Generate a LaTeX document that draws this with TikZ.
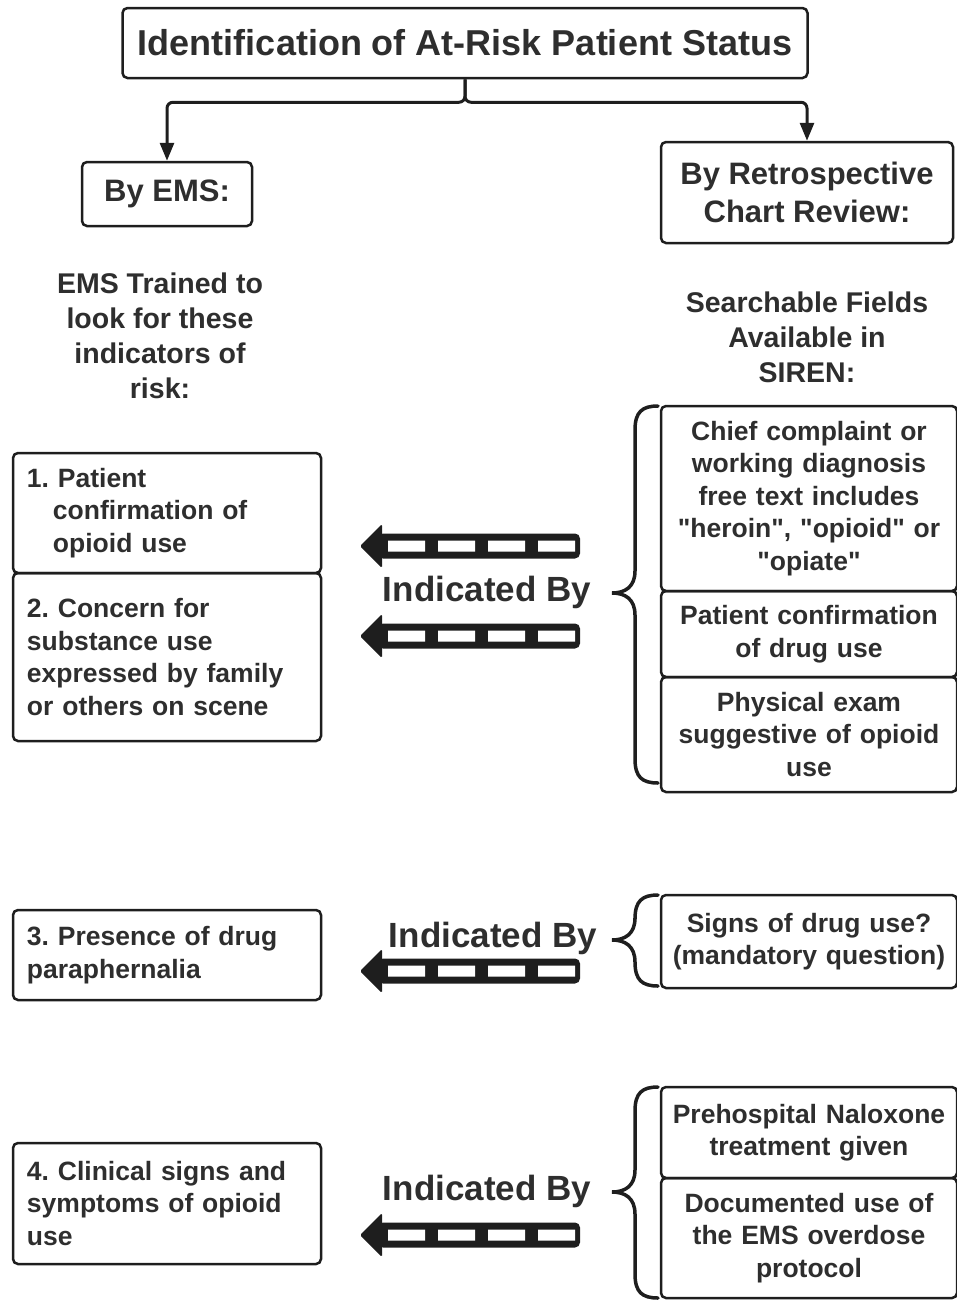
\documentclass[tikz,border=0pt]{standalone}
\usepackage{fontspec}
\setmainfont{Liberation Sans}[Ligatures=TeXOff]
\usetikzlibrary{arrows.meta}
\definecolor{txt}{HTML}{2E2E2E}
\definecolor{lin}{HTML}{1E1E1E}
\frenchspacing
\newcommand\curlyb[3]{%
\draw[brc] (658,#1) .. controls (642,#1) and (635,#1+6) .. (635,#1+24) -- (635,#3-22) .. controls (635,#3-6) and (625,#3) .. (612,#3) .. controls (625,#3) and (635,#3+6) .. (635,#3+22) -- (635,#2-24) .. controls (635,#2-6) and (642,#2) .. (658,#2);}
\begin{document}
\begin{tikzpicture}[x=1pt,y=-1pt,
  every node/.style={text=txt, font=\bfseries},
  box/.style={draw=lin, line width=2.5pt, rounded corners=5pt},
  lbox/.style={box, text width=280pt, inner xsep=14pt, inner ysep=0pt, align=left, font=\bfseries\fontsize{26.5}{32.5}\selectfont},
  rbox/.style={box, minimum width=296pt, text width=284pt, inner xsep=6pt, inner ysep=0pt, align=center, font=\bfseries\fontsize{26.5}{32.5}\selectfont},
  hbox/.style={box, inner sep=0pt, align=center, font=\bfseries\fontsize{31}{37.5}\selectfont},
  plain/.style={align=center, font=\bfseries\fontsize{28.5}{35}\selectfont},
  ind/.style={font=\bfseries\fontsize{35}{40}\selectfont},
  conn/.style={draw=lin, line width=3pt, rounded corners=6pt, -{Triangle[width=14pt,length=18pt]}},
  brc/.style={draw=lin, line width=3.5pt, line cap=round},
  blockarr/.pic={
    \fill[lin, rounded corners=1.5pt] (0,0) -- (22,-22) -- (22,22) -- cycle;
    \fill[lin, rounded corners=5pt] (18,-12.5) rectangle (220,12.5);
    \fill[white] (28,-5.5) rectangle (65,5.5) (78,-5.5) rectangle (115,5.5)
                 (128,-5.5) rectangle (165,5.5) (178,-5.5) rectangle (215,5.5);
  }]
\useasboundingbox (0,0) rectangle (957,1301);

% header
\node[box, minimum width=685pt, minimum height=70pt, inner sep=0pt, font=\bfseries\fontsize{36}{40}\selectfont] (title) at (465,43) {Identification of At-Risk Patient Status};
\node[hbox, minimum width=170pt, minimum height=64pt] (ems) at (167,194) {By EMS:};
\node[hbox, minimum width=292pt, minimum height=101pt] (retro) at (807,192.5) {By Retrospective\\Chart Review:};
\draw[conn] (title.south) -- ++(0,23) -| (ems.north);
\draw[conn] (title.south) -- ++(0,23) -| (retro.north);

\node[plain] (emstxt) at (160,336) {EMS Trained to\\look for these\\indicators of\\risk:};
\node[plain] (sirtxt) at (807,337) {Searchable Fields\\Available in\\SIREN:};

% left boxes
\node[lbox, minimum height=120pt] (l1) at (167,513) {1.~Patient\\\hspace*{26pt}confirmation of\\\hspace*{26pt}opioid use};
\node[lbox, minimum height=168pt] (l2) at (167,657) {2. Concern for\\substance use\\expressed by family\\or others on scene};
\node[lbox, minimum height=90pt] (l3) at (167,955) {3. Presence of drug\\paraphernalia};
\node[lbox, minimum height=121pt] (l4) at (167,1203.5) {4. Clinical signs and\\symptoms of opioid\\use};

% right boxes
\node[rbox, minimum height=185pt] (ra) at (809,498.5) {Chief complaint or\\working diagnosis\\free text includes\\"heroin", "opioid" or\\"opiate"};
\node[rbox, minimum height=86pt] (rb) at (809,634) {Patient confirmation\\of drug use};
\node[rbox, minimum height=115pt] (rc) at (809,734.5) {Physical exam\\suggestive of opioid\\use};
\node[rbox, minimum height=93pt] (rd) at (809,941.5) {Signs of drug use?\\(mandatory question)};
\node[rbox, minimum height=91pt] (re) at (809,1132.5) {Prehospital Naloxone\\treatment given};
\node[rbox, minimum height=120pt] (rf) at (809,1238) {Documented use of\\the EMS overdose\\protocol};

% braces
\curlyb{406}{783}{593}
\curlyb{895}{986}{940}
\curlyb{1087}{1298}{1192}

% indicated by
\node[ind] (i1) at (487,592) {Indicated By};
\node[ind] (i2) at (493,938) {Indicated By};
\node[ind] (i3) at (487,1191) {Indicated By};
\pic at (360,546) {blockarr};
\pic at (360,636) {blockarr};
\pic at (360,971) {blockarr};
\pic at (360,1235) {blockarr};
\end{tikzpicture}
\end{document}
